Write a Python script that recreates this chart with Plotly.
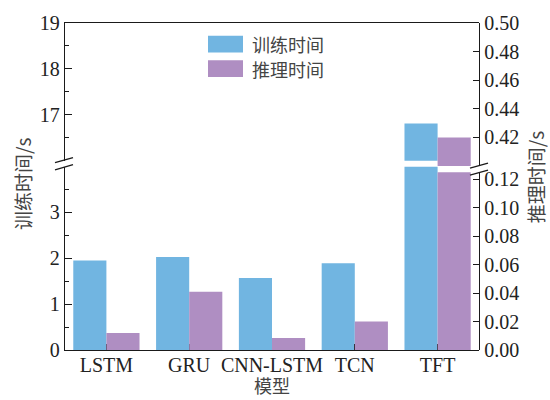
import plotly.graph_objects as go

# Model names and measured timings (seconds)
models = ["LSTM", "GRU", "CNN-LSTM", "TCN", "TFT"]
train_time = [1.95, 2.03, 1.57, 1.89, 16.81]
infer_time = [0.012, 0.041, 0.0085, 0.020, 0.420]

train_name = "训练时间"
infer_name = "推理时间"
train_color = "#71b5e1"
infer_color = "#af8ec2"

# Axis tick values for the broken axes
left_low_ticks = [0, 1, 2, 3]
left_low_minor = [0.5, 1.5, 2.5, 3.5]
left_high_ticks = [17, 18, 19]
left_high_minor = [16.5, 17.5, 18.5]
right_low_ticks = [0.00, 0.02, 0.04, 0.06, 0.08, 0.10, 0.12]
right_high_ticks = [0.42, 0.44, 0.46, 0.48, 0.50]

W, H = 550, 400
ML, MR, MT, MB = 65, 71, 17, 50
ph = H - MT - MB


def py(y):
    """pixel row -> paper fraction"""
    return (H - MB - y) / ph


def px(x):
    return (x - ML) / (W - ML - MR)


x_idx = list(range(len(models)))
BW = 0.4

fig = go.Figure()
# training time: lower (y) and upper (y2) panels on the left axes
for xa, ya in (("x", "y"), ("x2", "y2")):
    fig.add_trace(go.Bar(x=x_idx, y=train_time, name=train_name, width=BW, offset=-BW,
                         marker=dict(color=train_color, line=dict(width=0)),
                         xaxis=xa, yaxis=ya, showlegend=False))
# inference time: lower (y3) and upper (y4) panels on the right axes
for xa, ya in (("x3", "y3"), ("x4", "y4")):
    fig.add_trace(go.Bar(x=x_idx, y=infer_time, name=infer_name, width=BW, offset=0,
                         marker=dict(color=infer_color, line=dict(width=0)),
                         xaxis=xa, yaxis=ya, showlegend=False))

LC = "#1a1a1a"
LW = 1.3
tickfont = dict(family="Liberation Serif", size=20, color="#222")
cjkfont = dict(family="Noto Sans CJK SC", size=19, color="#444")
legfont = dict(family="Noto Sans CJK SC", size=18, color="#444")

xcommon = dict(range=[-0.5, 4.5], domain=[0, 1], showgrid=False, zeroline=False)
yleft = dict(showline=True, linecolor=LC, linewidth=LW, ticks="inside", ticklen=7,
             tickwidth=LW, tickcolor=LC, showgrid=False, zeroline=False,
             tickfont=tickfont, side="left")
yright = dict(showline=True, linecolor=LC, linewidth=LW, ticks="inside", ticklen=6,
              tickwidth=LW, tickcolor=LC, showgrid=False, zeroline=False,
              tickfont=tickfont, side="right", tickformat=".2f")

fig.update_layout(
    width=W, height=H,
    margin=dict(l=ML, r=MR, t=MT, b=MB),
    plot_bgcolor="rgba(0,0,0,0)", paper_bgcolor="white",
    barmode="overlay",
    font=dict(family="Liberation Serif, Noto Sans CJK SC", color="#333"),
    xaxis=dict(**xcommon, anchor="y", showline=True, linecolor=LC, linewidth=LW,
               tickmode="array", tickvals=x_idx, ticktext=models,
               ticks="inside", ticklen=6, tickwidth=LW, tickcolor=LC,
               tickfont=tickfont, ticklabelstandoff=-3),
    xaxis2=dict(**xcommon, anchor="y2", matches="x", side="top", showline=True,
                linecolor=LC, linewidth=LW, showticklabels=False, ticks=""),
    xaxis3=dict(**xcommon, anchor="y3", matches="x", visible=False),
    xaxis4=dict(**xcommon, anchor="y4", matches="x", visible=False),
    yaxis=dict(**yleft, anchor="x", domain=[0, py(163.3)], range=[0, 4],
               tickmode="array", tickvals=left_low_ticks,
               minor=dict(tickvals=left_low_minor, ticks="inside", ticklen=4,
                          tickwidth=LW, tickcolor=LC)),
    yaxis2=dict(**yleft, anchor="x2", domain=[py(157.3), 1], range=[16, 19],
                tickmode="array", tickvals=left_high_ticks,
                minor=dict(tickvals=left_high_minor, ticks="inside", ticklen=4,
                           tickwidth=LW, tickcolor=LC)),
    yaxis3=dict(**yright, anchor="x3", domain=[0, py(169)], range=[0, 0.125],
                tickmode="array", tickvals=right_low_ticks),
    yaxis4=dict(**yright, anchor="x4", domain=[py(162.7), 1], range=[0.40, 0.50],
                tickmode="array", tickvals=right_high_ticks),
)

# break marks on both vertical axes
shapes = []
for x0, x1, yc in ((55, 73, 160.3), (470, 488, 165.8)):
    for dy in (-3.6, 3.6):
        shapes.append(dict(type="line", xref="paper", yref="paper",
                           x0=px(x0), x1=px(x1), y0=py(yc + dy + 2.6), y1=py(yc + dy - 2.6),
                           line=dict(color=LC, width=LW)))

# legend swatches
legend_items = [(train_name, train_color, 38.5), (infer_name, infer_color, 63.5)]
annotations = []
for name, col, yc in legend_items:
    shapes.append(dict(type="rect", xref="paper", yref="paper",
                       x0=px(208), x1=px(243), y0=py(yc + 8.5), y1=py(yc - 8.5),
                       fillcolor=col, line=dict(width=0)))
    annotations.append(dict(text=name, xref="paper", yref="paper", x=px(251), y=py(yc),
                            xanchor="left", yanchor="middle", showarrow=False,
                            font=legfont, borderpad=0))

# axis titles
annotations += [
    dict(text="训练时间/s", xref="paper", yref="paper", x=px(22), y=py(181),
         textangle=-90, showarrow=False, xanchor="center", yanchor="middle",
         font=cjkfont),
    dict(text="推理时间/s", xref="paper", yref="paper", x=px(535), y=py(174),
         textangle=-90, showarrow=False, xanchor="center", yanchor="middle",
         font=cjkfont),
    dict(text="模型", xref="paper", yref="paper", x=px(272), y=py(400),
         showarrow=False, xanchor="center", yanchor="bottom", font=legfont,
         borderpad=0),
]

fig.update_layout(shapes=shapes, annotations=annotations)
fig.write_html("out.html")
